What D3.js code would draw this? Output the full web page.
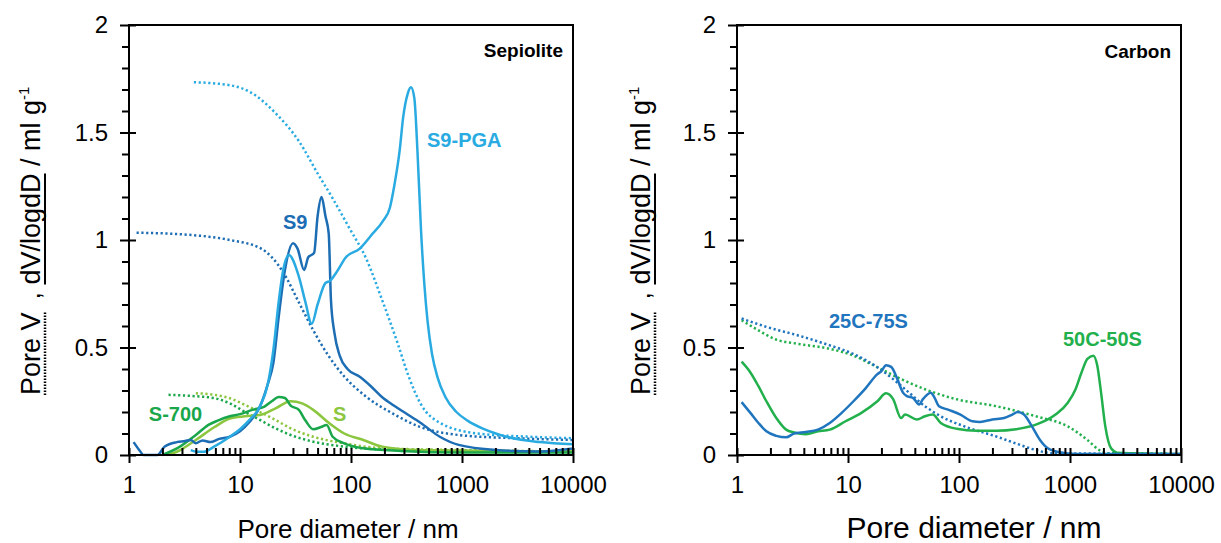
<!DOCTYPE html>
<html>
<head>
<meta charset="utf-8">
<script src="https://cdnjs.cloudflare.com/ajax/libs/d3/7.8.5/d3.min.js"></script>
<style>
body { margin: 0; background: #fff; }
text { font-family: "Liberation Sans", Arial, sans-serif; }
</style>
</head>
<body>
<svg id="chart" width="1221" height="543"></svg>
<script>
// ---- data: [pore diameter nm, value] ----
// Sepiolite panel
const s9Pga = [[3.6,0.023],[4.1,0.015],[4.7,0.015],[5.9,0.04],[8.1,0.085],[10,0.12],[12,0.16],[15.1,0.225],[17.8,0.33],[20,0.49],[22.4,0.72],[24.5,0.86],[27.5,0.93],[33.9,0.83],[38.9,0.71],[44.3,0.61],[50,0.70],[58.9,0.80],[64.6,0.81],[74,0.85],[90,0.92],[120,0.96],[151,1.02],[195,1.09],[224,1.15],[245,1.25],[275,1.42],[295,1.57],[324,1.68],[347,1.71],[372,1.66],[398,1.40],[427,1.05],[457,0.80],[490,0.62],[537,0.47],[603,0.36],[708,0.27],[891,0.20],[1122,0.16],[1585,0.12],[2512,0.085],[5012,0.06],[10000,0.05]];
const s9PgaCum = [[3.84,1.734],[8.1,1.72],[13.1,1.68],[20.9,1.59],[33.9,1.46],[50,1.31],[69,1.19],[95.5,1.06],[138,0.91],[191,0.72],[263,0.52],[331,0.365],[422,0.24],[631,0.15],[1380,0.10],[4000,0.085],[10000,0.078]];
const s9 = [[1.1,0.06],[1.25,0.02],[1.35,0],[1.8,0],[2.1,0.04],[2.7,0.06],[3.2,0.065],[3.6,0.07],[4.0,0.055],[4.6,0.068],[5.4,0.06],[6.5,0.075],[8.1,0.085],[10,0.11],[12,0.15],[15.1,0.225],[17.8,0.33],[20,0.43],[22.4,0.65],[25.4,0.86],[30,0.985],[33,0.96],[37.8,0.86],[41.2,0.92],[46.5,0.94],[50,1.11],[54.3,1.20],[58.9,1.11],[63,1.03],[66,0.72],[70.8,0.57],[79.4,0.46],[93,0.40],[119,0.365],[151,0.32],[190,0.27],[243,0.23],[309,0.195],[422,0.15],[631,0.085],[933,0.047],[2040,0.023],[5000,0.016],[10000,0.03]];
const s9Cum = [[1.17,1.034],[3.7,1.023],[8.1,1.0],[15.5,0.96],[24.5,0.85],[33.9,0.71],[45.7,0.58],[63,0.46],[87,0.365],[138,0.27],[243,0.19],[422,0.13],[933,0.093],[3020,0.078],[10000,0.07]];
const s700 = [[2.0,0],[2.9,0.04],[4.0,0.093],[5.2,0.14],[6.3,0.16],[8.1,0.18],[10,0.19],[12.9,0.21],[16.6,0.225],[19.3,0.25],[22.4,0.27],[25.4,0.265],[28.6,0.23],[33.9,0.21],[38.9,0.16],[45.7,0.12],[53.7,0.13],[60.3,0.14],[68.4,0.085],[87,0.054],[129,0.031],[282,0.019],[1000,0.012],[10000,0.012]];
const s700Cum = [[2.27,0.28],[3.6,0.275],[5.9,0.264],[8.1,0.24],[11.1,0.20],[15.1,0.163],[20.9,0.124],[28.6,0.093],[45.7,0.062],[87,0.039],[200,0.026],[10000,0.016]];
const sRaw = [[2.2,0],[2.9,0.023],[4.0,0.07],[5.9,0.13],[8.1,0.17],[11.1,0.18],[15.1,0.186],[20.9,0.217],[28.6,0.25],[36.3,0.24],[45.7,0.21],[63,0.15],[87,0.10],[129,0.07],[191,0.039],[400,0.023],[10000,0.016]];
const sRawCum = [[4.0,0.287],[5.9,0.28],[8.1,0.264],[11.1,0.233],[15.1,0.20],[20.9,0.163],[28.6,0.124],[45.7,0.085],[87,0.054],[200,0.031],[1000,0.023],[10000,0.016]];

// Carbon panel
const c25 = [[1.1,0.246],[1.32,0.196],[1.56,0.149],[1.84,0.11],[2.26,0.089],[2.77,0.082],[3.27,0.10],[4.17,0.107],[5.37,0.118],[6.85,0.149],[8.77,0.196],[11.2,0.25],[14.4,0.31],[18.4,0.376],[20,0.39],[22,0.418],[24.5,0.41],[27.5,0.36],[31.3,0.29],[33.9,0.274],[38.5,0.266],[43.7,0.235],[47.3,0.26],[55.7,0.29],[60.3,0.266],[66,0.227],[80.7,0.21],[103,0.188],[132,0.157],[155,0.154],[200,0.165],[255,0.172],[302,0.188],[339,0.20],[385,0.188],[454,0.133],[537,0.07],[631,0.031],[807,0.0125],[1122,0.005],[10000,0.005]];
const c25Cum = [[1.1,0.635],[1.84,0.596],[3.55,0.556],[6.85,0.51],[11.2,0.47],[18.4,0.408],[25.5,0.353],[35.5,0.29],[49.3,0.227],[68.5,0.18],[112,0.133],[217,0.086],[355,0.047],[490,0.023],[700,0.008],[10000,0.005]];
const c50 = [[1.1,0.434],[1.32,0.384],[1.56,0.32],[1.84,0.25],[2.26,0.172],[2.77,0.118],[3.27,0.105],[4.17,0.097],[5.37,0.11],[6.85,0.118],[9.5,0.157],[13.2,0.196],[18.4,0.25],[22,0.287],[25.5,0.26],[30.1,0.172],[32.7,0.188],[41.7,0.165],[49.3,0.18],[58,0.188],[68.5,0.149],[95.5,0.122],[144,0.113],[217,0.113],[327,0.12],[493,0.141],[741,0.188],[955,0.243],[1122,0.306],[1270,0.384],[1435,0.447],[1622,0.462],[1762,0.415],[1905,0.29],[2080,0.133],[2344,0.031],[2660,0.011],[10000,0.005]];
const c50Cum = [[1.1,0.627],[1.56,0.58],[2.17,0.54],[3.55,0.517],[6.85,0.494],[11.2,0.462],[18.4,0.408],[30.1,0.353],[49.3,0.306],[95.5,0.259],[217,0.227],[493,0.18],[955,0.133],[1435,0.07],[1836,0.023],[2340,0.008],[10000,0.005]];

const xMajor = [1, 10, 100, 1000, 10000];
const yMajor = [0, 0.5, 1, 1.5, 2];

const colLightBlue = "#29abe2", colDarkBlue = "#1c6db3", colGreen = "#1aa64b",
      colLightGreen = "#8cc63f", colBlue = "#1f75be", colGreen2 = "#22b04d";

const panels = [
  { left: 129, right: 573, title: "Sepiolite", titleAt: [8130, 1.851],
    xTitleSize: 26, xTitleX: 348, yTitleX: 40,
    series: [
      { data: s9PgaCum, color: colLightBlue, dotted: true },
      { data: s9Cum, color: colDarkBlue, dotted: true },
      { data: s700Cum, color: colGreen, dotted: true },
      { data: sRawCum, color: colLightGreen, dotted: true },
      { data: sRaw, color: colLightGreen },
      { data: s700, color: colGreen },
      { data: s9, color: colDarkBlue },
      { data: s9Pga, color: colLightBlue }
    ],
    labels: [
      { text: "S9-PGA", at: [484, 1.433], color: colLightBlue },
      { text: "S9", at: [24.4, 1.05], color: colDarkBlue },
      { text: "S-700", at: [1.51, 0.158], color: colGreen },
      { text: "S", at: [68.8, 0.158], color: colLightGreen }
    ] },
  { left: 737, right: 1181, title: "Carbon", titleAt: [8130, 1.847],
    xTitleSize: 30, xTitleX: 974, yTitleX: 650,
    series: [
      { data: c50Cum, color: colGreen2, dotted: true },
      { data: c25Cum, color: colBlue, dotted: true },
      { data: c50, color: colGreen2 },
      { data: c25, color: colBlue }
    ],
    labels: [
      { text: "25C-75S", at: [6.74, 0.59], color: colBlue },
      { text: "50C-50S", at: [865, 0.507], color: colGreen2 }
    ] }
];

const svg = d3.select("#chart");
const plotTop = 25, plotBottom = 455;

panels.forEach(p => {
  const x = d3.scaleLog().domain([1, 10000]).range([p.left, p.right]);
  const y = d3.scaleLinear().domain([0, 2]).range([plotBottom, plotTop]);
  const g = svg.append("g");

  const xMinor = [];
  for (let k = 0; k < 4; ++k) for (let m = 2; m < 10; ++m) xMinor.push(m * Math.pow(10, k));
  const yMinor = d3.range(1, 20).filter(i => i % 5 != 0).map(i => i / 10);

  // curves
  const line = d3.line().x(d => x(d[0])).y(d => y(d[1])).curve(d3.curveMonotoneX);
  p.series.forEach(s => {
    g.append("path").datum(s.data)
      .attr("d", line)
      .attr("fill", "none")
      .attr("stroke", s.color)
      .attr("stroke-width", 2.5)
      .attr("stroke-dasharray", s.dotted ? "2.2,2.6" : null);
  });

  // axes
  const styleAxis = sel => {
    sel.select(".domain").remove();
    sel.selectAll("line").attr("stroke", "#000").attr("stroke-width", 2);
    sel.selectAll("text").style("font-size", "24px").attr("fill", "#000");
  };
  g.append("g").attr("transform", "translate(0," + plotBottom + ")")
    .call(d3.axisBottom(x).tickValues(xMajor).tickFormat(d3.format("d")).tickSize(8).tickPadding(13))
    .call(styleAxis);
  g.append("g").attr("transform", "translate(0," + plotBottom + ")")
    .call(d3.axisTop(x).tickValues(xMajor.concat(xMinor)).tickFormat("").tickSize(7))
    .call(styleAxis);
  g.append("g").attr("transform", "translate(" + p.left + ",0)")
    .call(d3.axisLeft(y).tickValues(yMajor).tickFormat(d => String(d)).tickSize(9).tickPadding(12))
    .call(styleAxis);
  g.append("g").attr("transform", "translate(" + p.left + ",0)")
    .call(d3.axisLeft(y).tickValues(yMinor).tickFormat("").tickSize(7))
    .call(styleAxis);
  g.append("g").attr("transform", "translate(" + p.left + ",0)")
    .call(d3.axisRight(y).tickValues(yMajor).tickFormat("").tickSize(7))
    .call(styleAxis);

  // frame
  g.append("rect")
    .attr("x", p.left).attr("y", plotTop)
    .attr("width", p.right - p.left).attr("height", plotBottom - plotTop)
    .attr("fill", "none").attr("stroke", "#000").attr("stroke-width", 2);

  // panel title and curve labels
  g.append("text")
    .attr("x", x(p.titleAt[0])).attr("y", y(p.titleAt[1]))
    .attr("text-anchor", "end")
    .style("font-size", "19px").style("font-weight", "bold")
    .text(p.title);
  p.labels.forEach(l => {
    g.append("text")
      .attr("x", x(l.at[0])).attr("y", y(l.at[1]))
      .style("font-size", "20px").style("font-weight", "bold")
      .attr("fill", l.color)
      .text(l.text);
  });

  // x title
  g.append("text")
    .attr("x", p.xTitleX).attr("y", 538)
    .attr("text-anchor", "middle")
    .style("font-size", p.xTitleSize + "px")
    .text("Pore diameter / nm");

  // y title, pieces laid out along the rotated baseline
  const yt = g.append("g")
    .attr("transform", "translate(" + p.yTitleX + ",395) rotate(-90)");
  const pieces = [
    { t: "Pore V", u: "dot" },
    { t: "\u2009 , ", u: null },
    { t: "dV/logdD", u: "solid" },
    { t: " / ml g", u: null },
    { t: "-1", u: null, sup: true }
  ];
  let pos = 0;
  pieces.forEach(pc => {
    const t = yt.append("text")
      .attr("x", pos).attr("y", pc.sup ? -11 : 0)
      .style("font-size", pc.sup ? "15px" : "27px")
      .style("white-space", "pre")
      .text(pc.t);
    const w = t.node().getComputedTextLength();
    if (pc.u) {
      yt.append("line")
        .attr("x1", pos).attr("x2", pos + w)
        .attr("y1", 5).attr("y2", 5)
        .attr("stroke", "#000")
        .attr("stroke-width", pc.u == "dot" ? 2.5 : 2)
        .attr("stroke-dasharray", pc.u == "dot" ? "1.5,1.5" : null);
    }
    pos += w;
  });
});
</script>
</body>
</html>
